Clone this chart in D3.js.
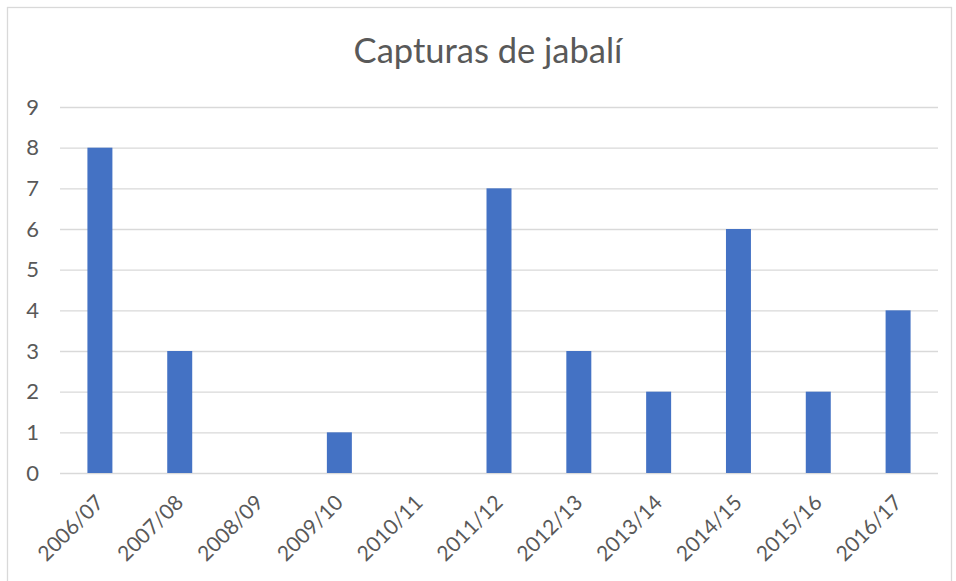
<!DOCTYPE html>
<html><head><meta charset="utf-8">
<script src="https://cdn.jsdelivr.net/npm/d3@7"></script>
<style>body{margin:0;background:#fff;} svg{display:block;}</style>
</head><body>
<script>
const categories = ["2006/07","2007/08","2008/09","2009/10","2010/11","2011/12","2012/13","2013/14","2014/15","2015/16","2016/17"];
const values = [8,3,0,1,0,7,3,2,6,2,4];
const yTicks = [0,1,2,3,4,5,6,7,8,9];
const title = "Capturas de jabalí";

const W = 956, H = 581;
const FONT = "Lato, 'Open Sans', sans-serif";
const svg = d3.select("body").append("svg").attr("width", W).attr("height", H);
svg.append("rect").attr("x", 7.5).attr("y", 7.5).attr("width", 944).attr("height", 590)
  .attr("fill", "#fff").attr("stroke", "#d9d9d9").attr("stroke-width", 1.3);

const m = {left: 60, right: 18, top: 107, bottom: 108};
const x = d3.scaleBand().domain(categories).range([m.left, W - m.right]).paddingInner(0.687).paddingOuter(0.3435);
const y = d3.scaleLinear().domain([0, 9]).range([H - m.bottom, m.top]);

svg.append("text").attr("x", 488).attr("y", 63).attr("text-anchor", "middle")
  .attr("font-family", FONT).attr("font-size", 34.5).attr("fill", "#595959").text(title);

const yAxis = svg.append("g").attr("transform", `translate(${m.left},0)`)
  .call(d3.axisLeft(y).tickValues(yTicks).tickSize(-(W - m.right - m.left)).tickPadding(21).tickFormat(d3.format("d")));
yAxis.select(".domain").remove();
yAxis.selectAll(".tick line").attr("stroke", "#d9d9d9").attr("stroke-width", 1.3);
yAxis.selectAll(".tick text").attr("font-family", FONT).attr("font-size", 22).attr("fill", "#595959");

svg.append("g").selectAll("rect").data(values).join("rect")
  .attr("x", (d, i) => x(categories[i])).attr("width", x.bandwidth())
  .attr("y", d => y(d)).attr("height", d => y(0) - y(d)).attr("fill", "#4472c4");

const xAxis = svg.append("g").attr("transform", `translate(0,${y(0)})`)
  .call(d3.axisBottom(x).tickSize(0).tickPadding(0));
xAxis.select(".domain").remove();
xAxis.selectAll(".tick text")
  .attr("font-family", FONT).attr("font-size", 21).attr("fill", "#595959")
  .attr("text-anchor", "end").attr("dy", 0).attr("y", 0)
  .attr("transform", "translate(5,31) rotate(-45)");
</script>
</body></html>
